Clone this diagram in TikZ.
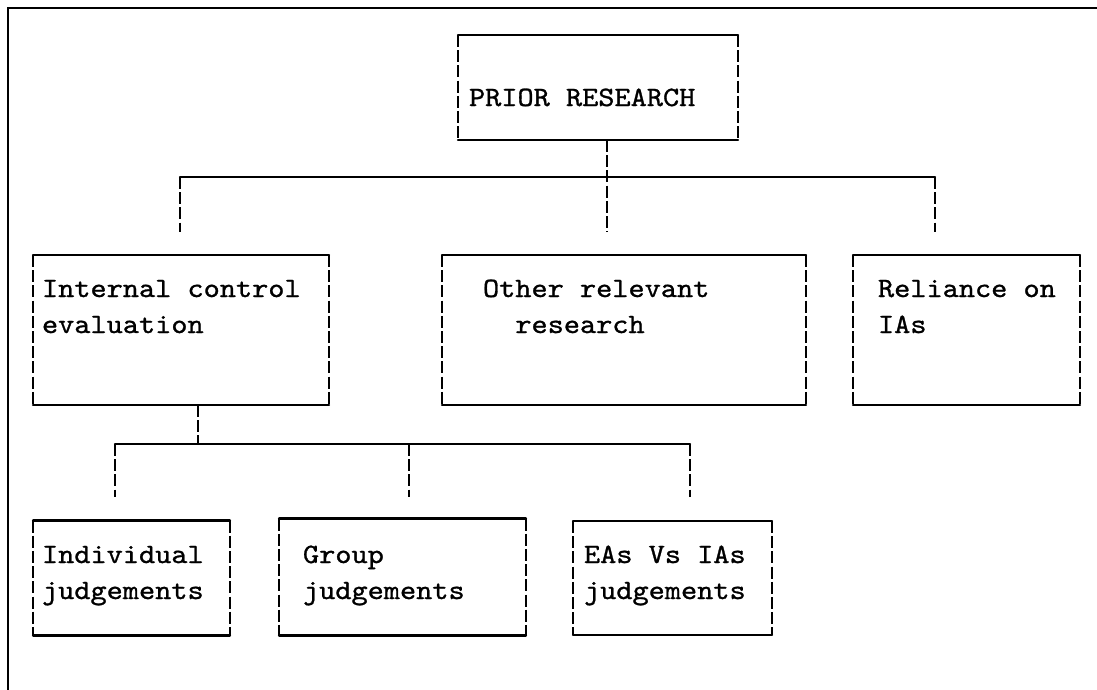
\documentclass[tikz,border=0pt]{standalone}
\usepackage{fontspec}
\setmonofont{lmmono10-regular.otf}[FakeStretch=1.1, FakeBold=1]
\usetikzlibrary{calc}
\tikzset{
  hl/.style={line width=1.1pt, line cap=round},
  vl/.style={line width=0.8pt, dash pattern=on 6pt off 1.6pt},
  tbox/.style={draw=none, inner sep=0pt, outer sep=0pt, rectangle},
  txt/.style={inner sep=0pt, outer sep=0pt, anchor=base west, align=left,
    font=\fontsize{14}{18}\selectfont\ttfamily}
}
\newcommand\typebox[1]{%
  \draw[hl] (#1.north west) -- (#1.north east) (#1.south west) -- (#1.south east);
  \draw[vl] (#1.north west) -- (#1.south west) (#1.north east) -- (#1.south east);}
\begin{document}
\begin{tikzpicture}[x=0.5pt, y=-0.5pt]
\useasboundingbox (0,0) rectangle (1097,690);
% outer frame (top and left only)
\coordinate (fa) at (8,690);
\coordinate (fb) at (8,8);
\coordinate (fc) at (1097,8);
\draw[line width=1.1pt] (fa) -- (fb) -- (fc);
% boxes
\node[tbox, minimum width=140pt, minimum height=52.5pt] (pr) at (598,87.5) {};
\node[tbox, minimum width=148pt, minimum height=75pt] (ic) at (181,330) {};
\node[tbox, minimum width=182pt, minimum height=75pt] (orr) at (624,330) {};
\node[tbox, minimum width=113.5pt, minimum height=75pt] (rel) at (966.5,330) {};
\node[tbox, minimum width=98.5pt, minimum height=57.5pt] (ind) at (131.5,578) {};
\node[tbox, minimum width=123.5pt, minimum height=58.5pt] (grp) at (402.5,577) {};
\node[tbox, minimum width=99.5pt, minimum height=57pt] (ea) at (672.5,578) {};
\typebox{pr}\typebox{ic}\typebox{orr}\typebox{rel}\typebox{ind}\typebox{grp}\typebox{ea}
% texts (base anchor = baseline of the last line)
\node[txt] (tpr) at (469,106) {PRIOR RESEARCH};
\node[txt] (tic) at (42,333) {Internal control\\evaluation};
\node[txt] (tor) at (483,333) {Other relevant\\\hspace*{1.155em}research};
\node[txt] (trel) at (878,333) {Reliance on\\IAs};
\node[txt] (tind) at (42,599) {Individual\\judgements};
\node[txt] (tgrp) at (303,599) {Group\\judgements};
\node[txt] (tea) at (584,599) {EAs Vs IAs\\judgements};
% upper connector
\coordinate (b1l) at (180,177);
\coordinate (b1r) at (935,177);
\coordinate (b1m) at (607,232);
\coordinate (d1l) at (180,232);
\coordinate (d1r) at (935,232);
\draw[vl] ($(pr.south)+(9,0)$) -- (b1m);
\draw[hl] (b1l) -- (b1r);
\draw[vl] (b1l) -- (d1l);
\draw[vl] (b1r) -- (d1r);
% lower connector
\coordinate (b2l) at (115,444);
\coordinate (b2m) at (409,444);
\coordinate (b2r) at (690,444);
\coordinate (d2l) at (115,497);
\coordinate (d2m) at (409,497);
\coordinate (d2r) at (690,497);
\draw[vl] ($(ic.south)+(17,0)$) -- ($(ic.south)+(17,0)+(0,39)$);
\draw[hl] (b2l) -- (b2r);
\draw[vl] (b2l) -- (d2l);
\draw[vl] (b2m) -- (d2m);
\draw[vl] (b2r) -- (d2r);
\end{tikzpicture}
\end{document}
